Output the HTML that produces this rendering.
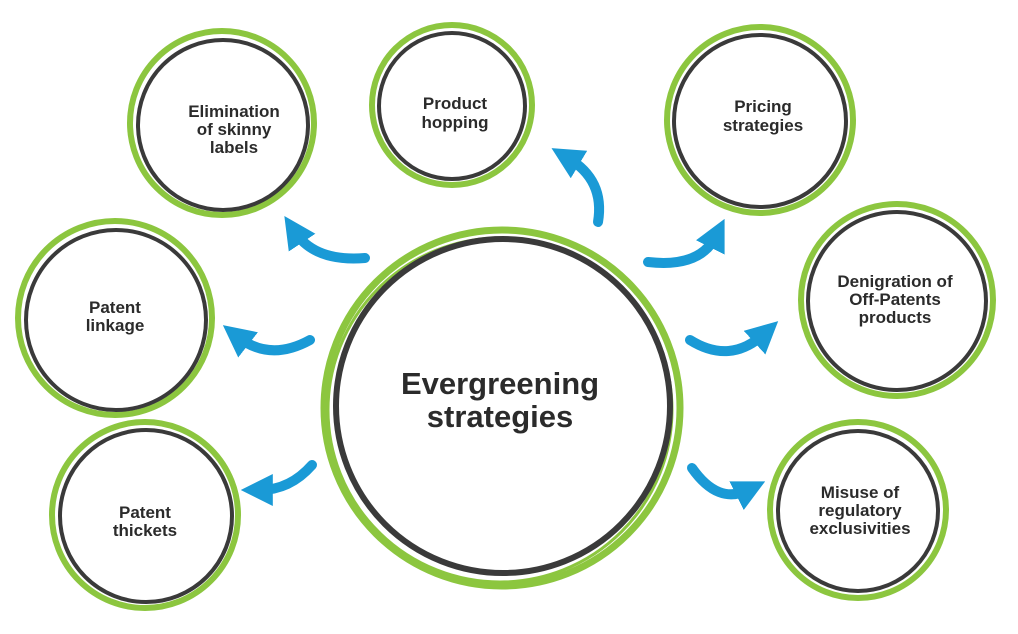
<!DOCTYPE html>
<html><head><meta charset="utf-8"><style>
html,body{margin:0;padding:0;background:#fff;}
svg{display:block}
text{font-family:"Liberation Sans",sans-serif;font-weight:bold;fill:#2b2b2b;text-anchor:middle}
</style></head><body>
<svg width="1018" height="634" viewBox="0 0 1018 634" xmlns="http://www.w3.org/2000/svg">
<defs>
<marker id="ah" viewBox="0 0 10 10" refX="4" refY="5" markerWidth="3.2" markerHeight="3.2" orient="auto">
<path d="M0,0 L10,5 L0,10 z" fill="#1a9ad6"/></marker>
</defs>
<g fill="none">
<circle cx="502" cy="408" r="178" stroke="#8cc63f" stroke-width="7"/>
<circle cx="500" cy="410" r="172" stroke="#8cc63f" stroke-width="3"/>
<circle cx="503" cy="406" r="167" stroke="#3a3a3a" stroke-width="6"/>
<g>
<circle cx="222" cy="123" r="92" stroke="#8cc63f" stroke-width="6"/>
<circle cx="223" cy="125" r="85" stroke="#3a3a3a" stroke-width="4"/>
<circle cx="452" cy="105" r="80" stroke="#8cc63f" stroke-width="6"/>
<circle cx="452" cy="106" r="73" stroke="#3a3a3a" stroke-width="4"/>
<circle cx="760" cy="120" r="93" stroke="#8cc63f" stroke-width="6"/>
<circle cx="760" cy="121" r="86" stroke="#3a3a3a" stroke-width="4"/>
<circle cx="897" cy="300" r="96" stroke="#8cc63f" stroke-width="6"/>
<circle cx="897" cy="301" r="89" stroke="#3a3a3a" stroke-width="4"/>
<circle cx="858" cy="510" r="88" stroke="#8cc63f" stroke-width="6"/>
<circle cx="858" cy="511" r="80" stroke="#3a3a3a" stroke-width="4"/>
<circle cx="115" cy="318" r="97" stroke="#8cc63f" stroke-width="6"/>
<circle cx="116" cy="320" r="90" stroke="#3a3a3a" stroke-width="4"/>
<circle cx="145" cy="515" r="93" stroke="#8cc63f" stroke-width="6"/>
<circle cx="146" cy="516" r="86" stroke="#3a3a3a" stroke-width="4"/>
</g>
<g stroke="#1a9ad6" stroke-width="10" stroke-linecap="round" marker-end="url(#ah)">
<path d="M365,258 Q315,262 295,232"/>
<path d="M598,222 Q605,180 568,158"/>
<path d="M648,262 Q700,268 716,236"/>
<path d="M690,340 Q730,365 764,334"/>
<path d="M692,468 Q718,505 748,490"/>
<path d="M310,340 Q270,362 238,337"/>
<path d="M312,465 Q290,490 260,490"/>
</g>
</g>
<text x="500" y="394" font-size="31">Evergreening</text>
<text x="500" y="427" font-size="31">strategies</text>
<g font-size="17">
<text x="234" y="117">Elimination</text><text x="234" y="135">of skinny</text><text x="234" y="153">labels</text>
<text x="455" y="109">Product</text><text x="455" y="128">hopping</text>
<text x="763" y="112">Pricing</text><text x="763" y="131">strategies</text>
<text x="895" y="287">Denigration of</text><text x="895" y="305">Off-Patents</text><text x="895" y="323">products</text>
<text x="860" y="498">Misuse of</text><text x="860" y="516">regulatory</text><text x="860" y="534">exclusivities</text>
<text x="115" y="313">Patent</text><text x="115" y="331">linkage</text>
<text x="145" y="518">Patent</text><text x="145" y="536">thickets</text>
</g>
</svg>
</body></html>
